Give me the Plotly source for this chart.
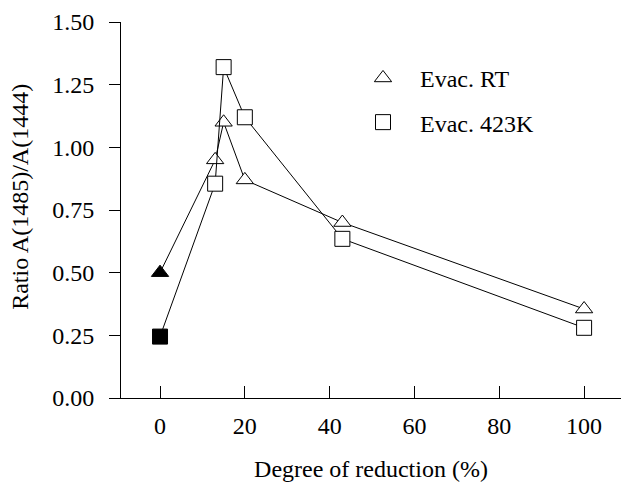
import plotly.graph_objects as go

# Data
reduction = [0, 13, 15, 20, 43, 100]
evac_rt = [0.50, 0.95, 1.10, 0.87, 0.70, 0.355]
evac_423k = [0.245, 0.855, 1.32, 1.12, 0.635, 0.28]
x_ticks = [0, 20, 40, 60, 80, 100]
y_ticks = [0.00, 0.25, 0.50, 0.75, 1.00, 1.25, 1.50]
y_tick_labels = ["0.00", "0.25", "0.50", "0.75", "1.00", "1.25", "1.50"]

FONT = "Liberation Serif, Times New Roman, serif"
n = len(reduction)
fills = ["black"] + ["white"] * (n - 1)

fig = go.Figure()
fig.add_trace(go.Scatter(
    x=reduction, y=evac_rt, mode="lines+markers", showlegend=False,
    line=dict(color="black", width=1),
    marker=dict(symbol="triangle-up", size=15, color=fills,
                line=dict(color="black", width=1)),
))
fig.add_trace(go.Scatter(
    x=reduction, y=evac_423k, mode="lines+markers", showlegend=False,
    line=dict(color="black", width=1),
    marker=dict(symbol="square", size=15, color=fills,
                line=dict(color="black", width=1)),
))
# legend entries (markers only)
fig.add_trace(go.Scatter(
    x=[None], y=[None], mode="markers", name="Evac. RT", legendgroup="a",
    marker=dict(symbol="triangle-up-open", size=15, color="black",
                line=dict(width=1)),
))
fig.add_trace(go.Scatter(
    x=[None], y=[None], mode="markers", name="Evac. 423K", legendgroup="b",
    marker=dict(symbol="square-open", size=15, color="black",
                line=dict(width=1)),
))

fig.update_layout(
    width=622, height=482,
    margin=dict(l=121, r=1, t=22, b=84),
    paper_bgcolor="white", plot_bgcolor="white",
    font=dict(family=FONT, size=24, color="black"),
    legend=dict(x=0.45, y=0.91, xanchor="left", yanchor="top",
                bgcolor="rgba(0,0,0,0)", itemwidth=64, tracegroupgap=10,
                font=dict(size=24)),
    annotations=[dict(
        text="Ratio A(1485)/A(1444)", textangle=-90, showarrow=False,
        xref="paper", yref="paper", x=-0.202, y=0.535,
        xanchor="center", yanchor="middle", font=dict(size=24),
    )],
)
fig.update_xaxes(
    range=[-9.2, 108.7], tickvals=x_ticks, ticks="inside", ticklen=12,
    tickwidth=1, tickcolor="black", showline=True, linecolor="black",
    linewidth=1, showgrid=False, zeroline=False, ticklabelstandoff=6,
    tickfont=dict(size=24),
    title=dict(text="Degree of reduction (%)", font=dict(size=24), standoff=22),
)
fig.update_yaxes(
    range=[0, 1.5], tickvals=y_ticks, ticktext=y_tick_labels, ticks="outside",
    ticklen=11, tickwidth=1, tickcolor="black", showline=True,
    linecolor="black", linewidth=1, showgrid=False, zeroline=False,
    ticklabelstandoff=10, tickfont=dict(size=24),
)

fig.write_html("out.html")
